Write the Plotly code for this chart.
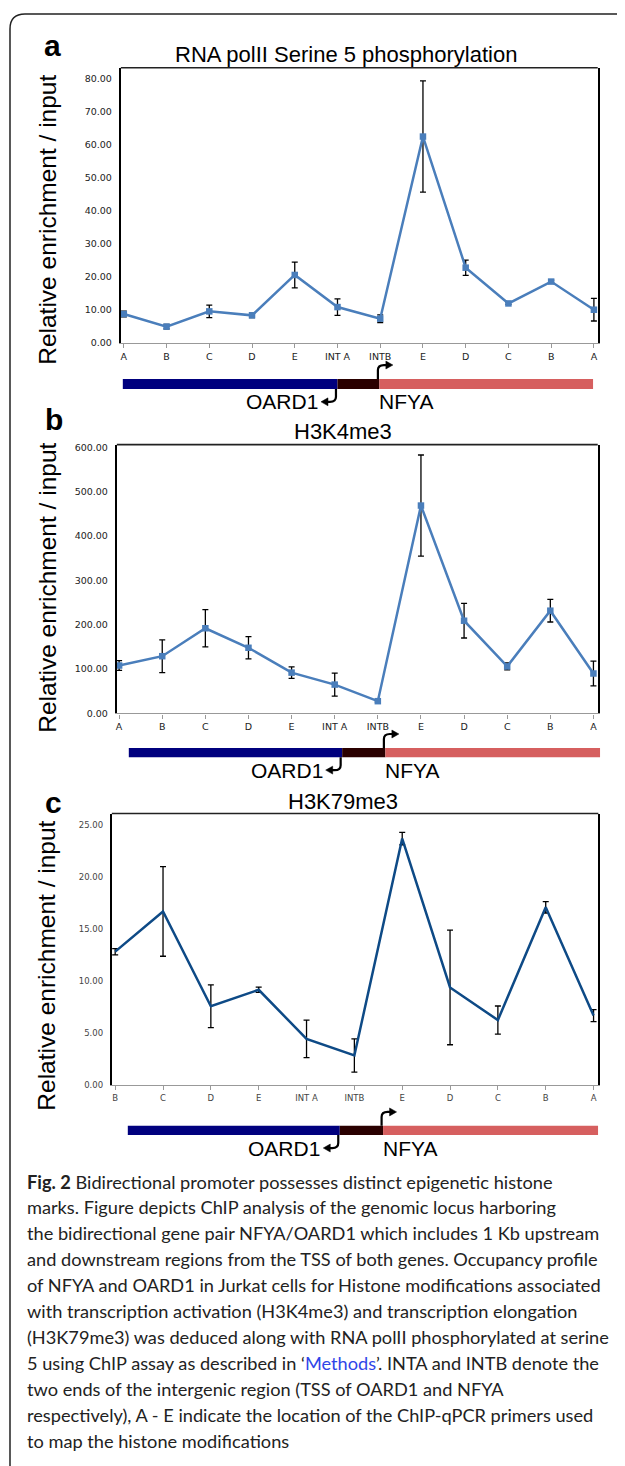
import plotly.graph_objects as go

# ---------------- data ----------------
cats_ab = ["A", "B", "C", "D", "E", "INT A", "INTB", "E", "D", "C", "B", "A"]
pol2 = [8.8, 5.0, 9.6, 8.4, 20.6, 10.9, 7.4, 62.4, 22.8, 12.0, 18.6, 10.1]
pol2_err = [0.85, 0.7, 1.9, 0.65, 3.9, 2.5, 1.15, 16.8, 2.3, 0.3, 0.4, 3.4]
h3k4 = [108, 129, 192, 148, 92, 65, 27.6, 468.6, 209, 106, 231.6, 90]
h3k4_err = [11, 37, 42, 25, 13, 26, 2, 114, 39, 8, 25.5, 28]
cats_c = ["B", "C", "D", "E", "INT A", "INTB", "E", "D", "C", "B", "A"]
h3k79 = [12.84, 16.7, 7.6, 9.18, 4.46, 2.87, 23.7, 9.4, 6.27, 17.1, 6.7]
h3k79_err = [0.3, 4.3, 2.05, 0.25, 1.8, 1.6, 0.6, 5.5, 1.35, 0.55, 0.57]

titles = ["RNA polII Serine 5 phosphorylation", "H3K4me3", "H3K79me3"]
letters = ["a", "b", "c"]
ylabel = "Relative enrichment / input"

caption_lines = [
    "<b>Fig. 2</b> Bidirectional promoter possesses distinct epigenetic histone",
    "marks. Figure depicts ChIP analysis of the genomic locus harboring",
    "the bidirectional gene pair NFYA/OARD1 which includes 1 Kb upstream",
    "and downstream regions from the TSS of both genes. Occupancy profile",
    "of NFYA and OARD1 in Jurkat cells for Histone modifications associated",
    "with transcription activation (H3K4me3) and transcription elongation",
    "(H3K79me3) was deduced along with RNA polII phosphorylated at serine",
    "5 using ChIP assay as described in \u2018<span style='color:#2f45e8'>Methods</span>\u2019. INTA and INTB denote the",
    "two ends of the intergenic region (TSS of OARD1 and NFYA",
    "respectively), A - E indicate the location of the ChIP-qPCR primers used",
    "to map the histone modifications",
]

# ---------------- helpers ----------------
OFF = 8  # page body margin
W, H = 625 - OFF, 1466 - OFF


def X(p):
    return (p - OFF) / W


def Y(p):
    return 1 - (p - OFF) / H


fig = go.Figure()

TICKFONT = dict(family="DejaVu Sans", size=9.5, color="#222")
TICKFONT_C = dict(family="DejaVu Sans", size=8.5, color="#444")

panels = [
    dict(cats=cats_ab, vals=pol2, errs=pol2_err, box=(120, 597.7, 65, 342),
         ymax=83.2, dtick=10, xr=(-0.07, 11.09), kind="ab"),
    dict(cats=cats_ab, vals=h3k4, errs=h3k4_err, box=(116, 597.7, 444, 714.3),
         ymax=606, dtick=100, xr=(-0.053, 11.1), kind="ab"),
    dict(cats=cats_c, vals=h3k79, errs=h3k79_err, box=(111, 598.3, 815, 1088.3),
         ymax=26.1, dtick=5, xr=(-0.07, 10.1), kind="c"),
]

shapes = []
annotations = []

for i, p in enumerate(panels):
    n = i + 1
    xa = "x" if n == 1 else f"x{n}"
    ya = "y" if n == 1 else f"y{n}"
    xs = list(range(len(p["cats"])))
    if p["kind"] == "ab":
        fig.add_trace(go.Scatter(
            x=xs, y=p["vals"], mode="lines+markers",
            line=dict(color="#4A7EBB", width=2.5),
            marker=dict(symbol="square", size=6.5, color="#4A7EBB"),
            error_y=dict(type="data", array=p["errs"], color="black", thickness=1.3, width=3),
            xaxis=xa, yaxis=ya, cliponaxis=False, showlegend=False, hoverinfo="skip"))
        tf = TICKFONT
    else:
        fig.add_trace(go.Scatter(
            x=xs, y=p["vals"], mode="lines",
            line=dict(color="#0E4A86", width=2.5),
            error_y=dict(type="data", array=p["errs"], color="black", thickness=1.3, width=3),
            xaxis=xa, yaxis=ya, cliponaxis=False, showlegend=False, hoverinfo="skip"))
        tf = TICKFONT_C
    x0, x1, y0, y1 = p["box"]
    fig.layout[f"xaxis{'' if n == 1 else n}"] = dict(
        domain=[X(x0), X(x1)], range=list(p["xr"]), anchor=ya,
        tickmode="array", tickvals=xs, ticktext=p["cats"],
        ticks="outside", ticklen=4, tickcolor="#999", tickwidth=1,
        showline=True, linecolor="#999", linewidth=1.2,
        showgrid=False, zeroline=False, tickfont=tf, fixedrange=True)
    fig.layout[f"yaxis{'' if n == 1 else n}"] = dict(
        domain=[Y(y1), Y(y0)], range=[0, p["ymax"]], anchor=xa,
        tickmode="linear", tick0=0, dtick=p["dtick"], tickformat=".2f",
        showline=True, linecolor="black", linewidth=2, mirror=True,
        ticks="", ticklabelstandoff=5,
        showgrid=False, zeroline=False, tickfont=tf, fixedrange=True)
    # top frame line
    shapes.append(dict(type="line", xref="paper", yref="paper",
                       x0=X(x0), x1=X(x1), y0=Y(y0), y1=Y(y0),
                       line=dict(color="#222", width=1.6)))

# titles, panel letters, y labels
title_pos = [(346, 52), (342.5, 431), (342.5, 803)]
letter_pos = [(52, 43), (53, 419), (53, 804)]
ylab_pos = [(47, 218), (47, 588), (46, 968)]
for t, (tx, ty) in zip(titles, title_pos):
    annotations.append(dict(text=t, x=X(tx), y=Y(ty), xref="paper", yref="paper",
                            showarrow=False, xanchor="center", yanchor="middle",
                            font=dict(family="Liberation Sans", size=22, color="black")))
for t, (tx, ty) in zip(letters, letter_pos):
    annotations.append(dict(text=f"<b>{t}</b>", x=X(tx), y=Y(ty), xref="paper", yref="paper",
                            showarrow=False, xanchor="center", yanchor="middle",
                            font=dict(family="Liberation Sans", size=30, color="black")))
for (tx, ty) in ylab_pos:
    annotations.append(dict(text=ylabel, x=X(tx), y=Y(ty), xref="paper", yref="paper",
                            showarrow=False, xanchor="center", yanchor="middle", textangle=-90,
                            font=dict(family="Liberation Sans", size=24.5, color="black")))

# gene maps: (bar top, bar bottom, blue start, dark start, red start, red end)
genes = [
    (378, 388, 122, 337, 379, 593),
    (749, 758.3, 128, 341.7, 385, 600),
    (1129, 1138.3, 127, 339.3, 382.7, 598),
]
for (t, b, s0, s1, s2, s3) in genes:
    for (a0, a1, col) in [(s0, s1, "#00007E"), (s1, s2, "#2A0000"), (s2, s3, "#D65F5F")]:
        shapes.append(dict(type="rect", xref="paper", yref="paper",
                           x0=X(a0), x1=X(a1), y0=Y(b), y1=Y(t),
                           fillcolor=col, line=dict(width=0), layer="above"))
    # NFYA arrow (up then right)
    ax = s2 - 1.5
    path = (f"M {X(ax)},{Y(t)} L {X(ax)},{Y(t-9)} "
            f"Q {X(ax)},{Y(t-14)} {X(ax+6)},{Y(t-14)} L {X(ax+9)},{Y(t-14)}")
    shapes.append(dict(type="path", xref="paper", yref="paper", path=path,
                       line=dict(color="black", width=2.2)))
    tri = (f"M {X(ax+8)},{Y(t-18)} L {X(ax+15)},{Y(t-14)} L {X(ax+8)},{Y(t-10)} Z")
    shapes.append(dict(type="path", xref="paper", yref="paper", path=tri,
                       fillcolor="black", line=dict(color="black", width=0.5)))
    # OARD1 arrow (down then left)
    bx = s1 - 1.5
    path = (f"M {X(bx)},{Y(b)} L {X(bx)},{Y(b+8)} "
            f"Q {X(bx)},{Y(b+13)} {X(bx-6)},{Y(b+13)} L {X(bx-9)},{Y(b+13)}")
    shapes.append(dict(type="path", xref="paper", yref="paper", path=path,
                       line=dict(color="black", width=2.2)))
    tri = (f"M {X(bx-8)},{Y(b+9)} L {X(bx-15)},{Y(b+13)} L {X(bx-8)},{Y(b+17)} Z")
    shapes.append(dict(type="path", xref="paper", yref="paper", path=tri,
                       fillcolor="black", line=dict(color="black", width=0.5)))
    # labels
    annotations.append(dict(text="OARD1", x=X(bx - 16), y=Y(b + 13), xref="paper", yref="paper",
                            showarrow=False, xanchor="right", yanchor="middle",
                            font=dict(family="Liberation Sans", size=21, color="black")))
    annotations.append(dict(text="NFYA", x=X(s2 - 2), y=Y(b + 13), xref="paper", yref="paper",
                            showarrow=False, xanchor="left", yanchor="middle",
                            font=dict(family="Liberation Sans", size=21, color="black")))

# outer frame
frame = f"M {X(9)},{Y(1480)} L {X(9)},{Y(26)} Q {X(9)},{Y(11)} {X(24)},{Y(11)} L {X(640)},{Y(11)}"
shapes.append(dict(type="path", xref="paper", yref="paper", path=frame,
                   line=dict(color="#222", width=1.5)))

# caption
for k, line in enumerate(caption_lines):
    annotations.append(dict(text=line, x=X(24), y=Y(1185 + k * 26.1), xref="paper", yref="paper",
                            showarrow=False, xanchor="left", yanchor="middle",
                            font=dict(family="Lato", size=18.2, color="#222")))

fig.update_layout(
    width=W, height=H, margin=dict(l=0, r=0, t=0, b=0),
    paper_bgcolor="white", plot_bgcolor="white",
    shapes=shapes, annotations=annotations, showlegend=False,
)

fig.write_html("out.html")
